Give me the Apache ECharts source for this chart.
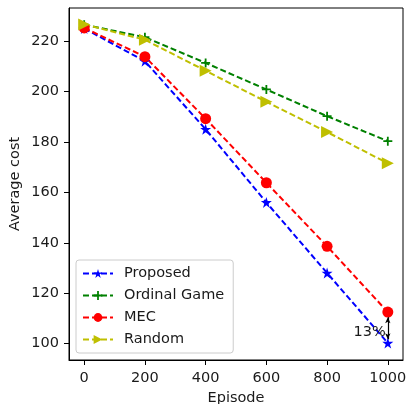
<!DOCTYPE html>
<html><head><meta charset="utf-8">
<script src="https://cdn.jsdelivr.net/npm/echarts@6/dist/echarts.min.js"></script>
<style>html,body{margin:0;padding:0;background:#fff}#c{width:408px;height:404px}</style>
</head><body><div id="c"></div>
<script>
const episodes = [0, 200, 400, 600, 800, 1000];
const proposed = [225.0, 212.0, 185.0, 156.0, 128.0, 100.2];
const ordinalGame = [226.5, 221.5, 211.3, 200.8, 190.2, 180.3];
const mec = [225.2, 213.8, 189.2, 163.8, 138.6, 112.5];
const random = [226.6, 220.5, 208.2, 195.9, 183.9, 171.5];
const xTicks = [0, 200, 400, 600, 800, 1000];
const yTicks = [100, 120, 140, 160, 180, 200, 220];
const gapLabel = '13%';

const STAR = 'path://M100,0 L122.45,69.1 L195.1,69.1 L136.3,111.8 L158.8,180.9 L100,138.2 L41.2,180.9 L63.7,111.8 L4.9,69.1 L77.55,69.1 Z';
const PLUS = 'path://M4,0 L6,0 L6,4 L10,4 L10,6 L6,6 L6,10 L4,10 L4,6 L0,6 L0,4 L4,4 Z';
const TRI = 'path://M0,0 L10,5 L0,10 Z';
const FONT = 'DejaVu Sans';
const FS = 14.5;
const pairs = v => episodes.map((e, i) => [e, v[i]]);

function mk(name, vals, color, symbol, size) {
  return {
    name, type: 'line', data: pairs(vals), symbol, symbolSize: size,
    showSymbol: true, animation: false,
    lineStyle: { color, width: 2, type: [6, 3] },
    itemStyle: { color, borderWidth: 0 },
    emphasis: { disabled: true }
  };
}
const s1 = mk('Proposed', proposed, '#0000ff', STAR, 11);
const s2 = mk('Ordinal Game', ordinalGame, '#008000', PLUS, 9);
const s3 = mk('MEC', mec, '#ff0000', 'circle', 11);
const s4 = mk('Random', random, '#bfbf00', TRI, 12);
s1.markLine = {
  silent: true, symbol: ['arrow', 'arrow'], symbolSize: [4, 6],
  lineStyle: { color: '#000', width: 1.2, type: 'solid' },
  label: { show: false },
  data: [[{ coord: [episodes[5], mec[5] - 2] }, { coord: [episodes[5], proposed[5] + 1.5] }]]
};
s1.markPoint = {
  silent: true, symbol: 'circle', symbolSize: 0,
  label: { show: true, formatter: gapLabel, position: 'left', distance: 2, offset: [0, 5], color: '#1a1a1a', fontFamily: FONT, fontSize: FS },
  data: [{ coord: [episodes[5], (mec[5] + proposed[5]) / 2] }]
};

const axisCommon = {
  axisLine: { show: true, onZero: false, lineStyle: { color: '#000', width: 1 } },
  axisTick: { show: true, inside: false, length: 5, lineStyle: { color: '#000', width: 1 } },
  splitLine: { show: false },
  axisLabel: { color: '#1a1a1a', fontFamily: FONT, fontSize: FS, formatter: v => String(v) },
  nameTextStyle: { color: '#1a1a1a', fontFamily: FONT, fontSize: FS }
};

const chart = echarts.init(document.getElementById('c'), null, { renderer: 'canvas' });
chart.setOption({
  animation: false,
  backgroundColor: '#fff',
  grid: { left: 69, right: 5, top: 8, bottom: 44, show: true, borderColor: '#000', borderWidth: 1, containLabel: false, outerBoundsMode: 'none' },
  xAxis: Object.assign({}, axisCommon, {
    type: 'value', min: -50, max: 1050, name: 'Episode', nameLocation: 'middle', nameGap: 30,
    axisTick: Object.assign({}, axisCommon.axisTick, { customValues: xTicks }),
    axisLabel: Object.assign({}, axisCommon.axisLabel, { customValues: xTicks, margin: 11 })
  }),
  yAxis: Object.assign({}, axisCommon, {
    type: 'value', min: 93.5, max: 233.1, name: 'Average cost', nameLocation: 'middle', nameGap: 46, nameMoveOverlap: false,
    axisTick: Object.assign({}, axisCommon.axisTick, { customValues: yTicks }),
    axisLabel: Object.assign({}, axisCommon.axisLabel, { customValues: yTicks, margin: 10 })
  }),
  legend: {
    orient: 'vertical', left: 76, top: 260, itemWidth: 30, itemHeight: 11, itemGap: 7,
    padding: [6, 9, 6, 6], borderColor: '#cccccc', borderWidth: 1, borderRadius: 3,
    backgroundColor: 'rgba(255,255,255,0.8)',
    textStyle: { color: '#1a1a1a', fontFamily: FONT, fontSize: FS, padding: [0, 0, 0, 6] },
    data: ['Proposed', 'Ordinal Game', 'MEC', 'Random'], selectedMode: false
  },
  series: [s1, s2, s3, s4]
});
</script></body></html>
